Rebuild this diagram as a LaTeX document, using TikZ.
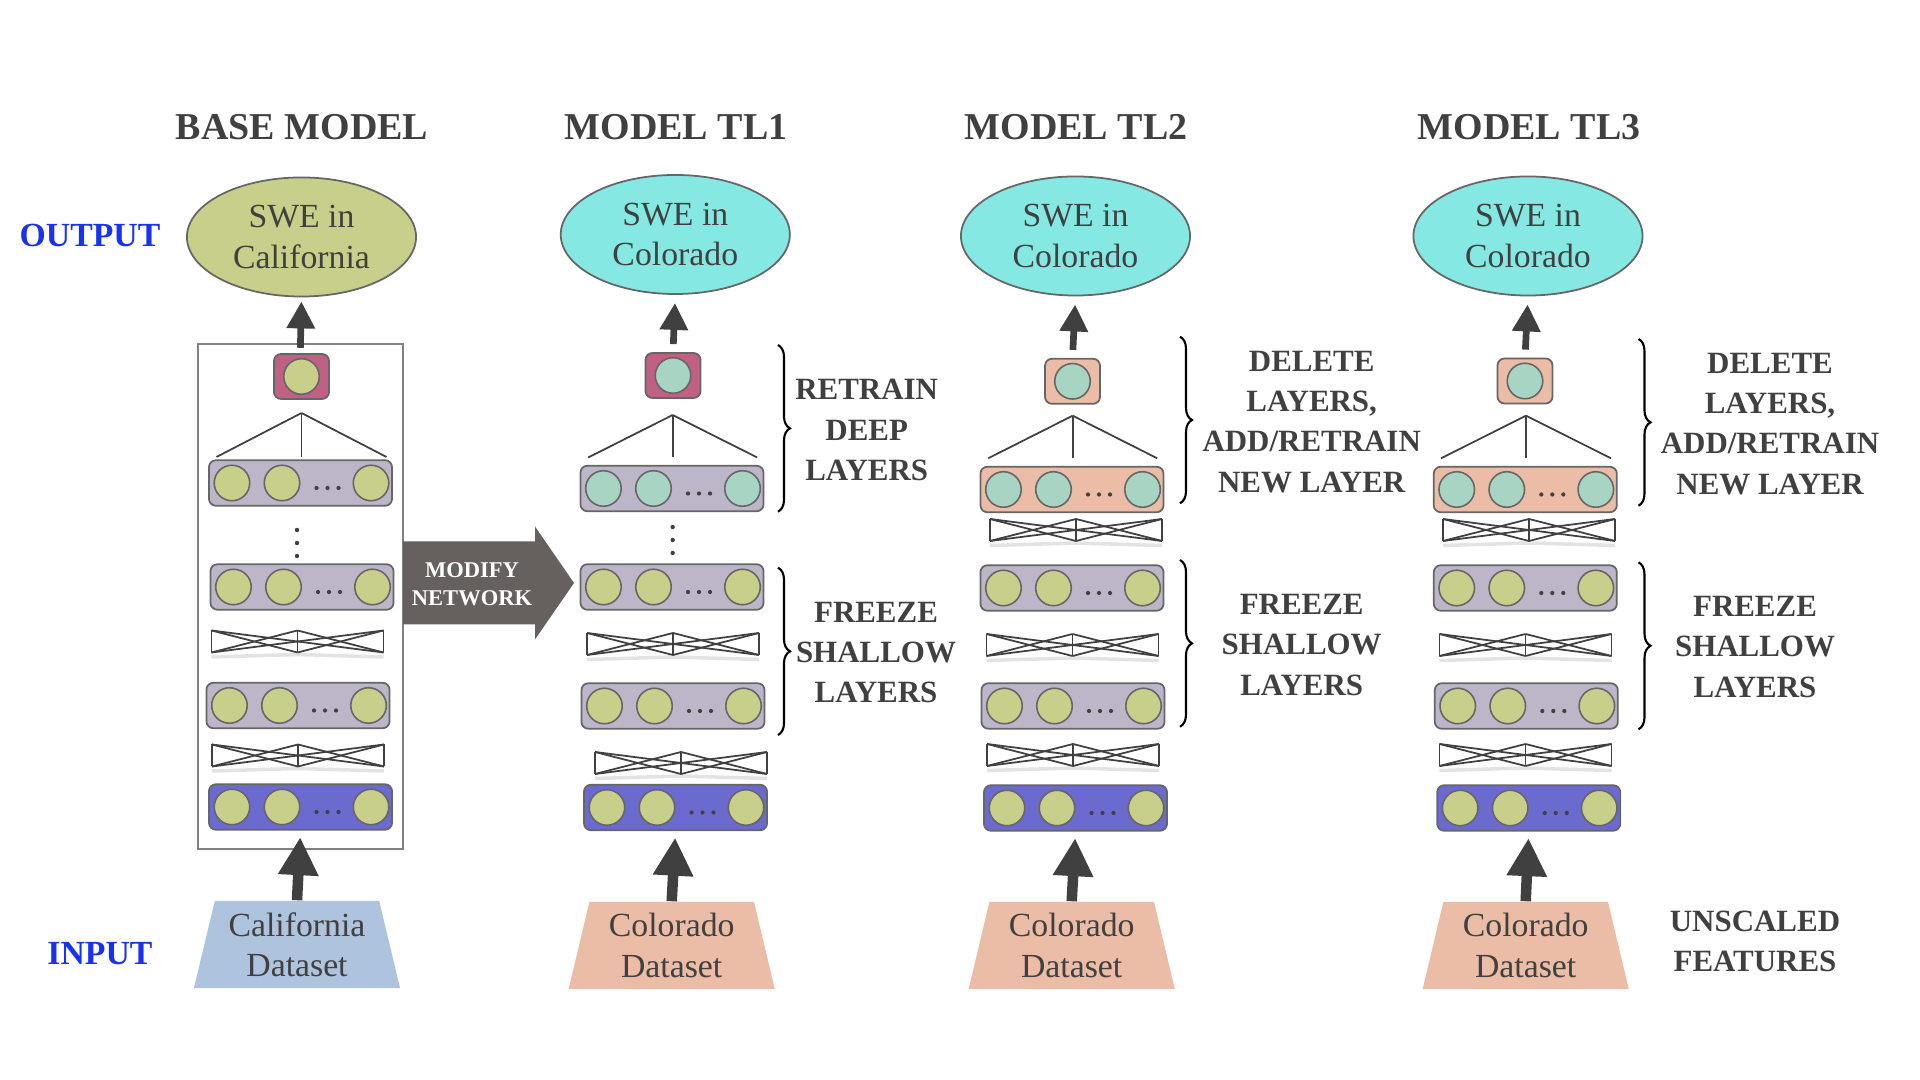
\documentclass[tikz,border=0pt]{standalone}
\usepackage{fontspec}
\setmainfont{Liberation Serif}
\usepackage{tikz}
\usetikzlibrary{
  arrows.meta,
  shapes.geometric,
  decorations.pathreplacing
}
\definecolor{inkgray}{RGB}{64,64,64}
\definecolor{edgegray}{RGB}{102,102,102}
\definecolor{framegray}{RGB}{128,128,128}
\definecolor{olivefill}{RGB}{200,207,138}
\definecolor{cyanfill}{RGB}{134,232,226}
\definecolor{mintfill}{RGB}{168,212,196}
\definecolor{lilacfill}{RGB}{189,182,201}
\definecolor{indigofill}{RGB}{107,107,207}
\definecolor{rosefill}{RGB}{192,96,133}
\definecolor{peachfill}{RGB}{235,188,166}
\definecolor{skyfill}{RGB}{173,195,222}
\definecolor{slatefill}{RGB}{102,97,94}
\definecolor{labelblue}{RGB}{26,50,240}

\tikzset{
  layerbox/.style={draw=edgegray, line width=0.5pt, rounded corners=0.07cm, minimum width=1.83cm, minimum height=0.455cm, inner sep=0pt},
  neuron/.style={circle, draw=edgegray, line width=0.45pt, minimum size=0.355cm, inner sep=0pt},
  outbox/.style={draw=edgegray, line width=0.5pt, rounded corners=0.07cm, minimum width=0.55cm, minimum height=0.45cm, inner sep=0pt},
  crossbox/.style={minimum width=1.72cm, minimum height=0.22cm, inner sep=0pt, outer sep=0pt},
  xline/.style={draw=inkgray, line width=0.5pt},
  fanline/.style={draw=inkgray, line width=0.5pt},
  swe/.style={ellipse, draw=edgegray, line width=0.5pt, minimum width=2.29cm, minimum height=1.19cm, inner sep=0pt, align=center, text=inkgray, font=\fontsize{9.6}{11.4}\selectfont},
  dataset/.style={trapezium, trapezium angle=72, trapezium stretches body, minimum width=2.06cm, minimum height=0.87cm, inner sep=0pt, align=center, text=inkgray, font=\fontsize{9.6}{11.4}\selectfont},
  modeltitle/.style={text=inkgray, font=\fontsize{10.8}{13}\selectfont\bfseries},
  notetext/.style={text=inkgray, align=center, font=\fontsize{8.8}{11.4}\selectfont\bfseries},
  sidelabel/.style={text=labelblue, font=\fontsize{9.6}{11.5}\selectfont\bfseries},
  uparrow/.style={draw=inkgray, line width=0.067cm, -{Triangle[width=0.27cm, length=0.27cm]}, shorten >=0.08cm, shorten <=0.08cm},
  inarrow/.style={draw=inkgray, line width=0.105cm, -{Triangle[width=0.38cm, length=0.38cm]}, shorten >=0.065cm},
  bracket/.style={decorate, decoration={brace, amplitude=0.12cm}, line width=0.6pt, draw=black}
}

% layer of neurons: name, x, y, box fill, neuron fill
\newcommand{\nnlayer}[5]{
  \node[layerbox, fill=#4] (#1) at (#2,#3) {};
  \node[neuron, fill=#5, xshift=-0.685cm] (#1-1) at (#1) {};
  \node[neuron, fill=#5, xshift=-0.185cm] (#1-2) at (#1) {};
  \node[neuron, fill=#5, xshift=0.705cm] (#1-3) at (#1) {};
  \foreach \dx in {0.16,0.27,0.38}
    \fill[inkgray] ([xshift=\dx cm, yshift=-0.05cm]#1.center) circle (0.021cm);
}
% dense connections: name, x, y
\newcommand{\xconn}[3]{
  \node[crossbox] (#1) at (#2,#3) {};
  \draw[gray!22, line width=1pt] ([yshift=-0.045cm]#1.south west) -- ([yshift=-0.02cm]#1.south) -- ([yshift=-0.045cm]#1.south east);
  \foreach \ta in {north west,north,north east}
    \foreach \tb in {south west,south,south east}
      \draw[xline] (#1.\ta) -- (#1.\tb);
}

\begin{document}
\begin{tikzpicture}[x=0.01cm, y=-0.01cm]
  \useasboundingbox (0,0) rectangle (1920,1080);

  \node[sidelabel] (output) at (90,236) {OUTPUT};
  \node[sidelabel] (input) at (100,954) {INPUT};

  % base model
  \node[modeltitle] (b-title) at (302,127) {BASE MODEL};
  \node[swe, fill=olivefill] (b-swe) at (301.5,237) {SWE in\\California};
  \node[draw=framegray, line width=0.6pt, minimum width=2.05cm, minimum height=5.05cm, inner sep=0pt] (b-frame) at (300.5,596.5) {};
  \node[outbox, fill=rosefill] (b-out) at (301.5,376.5) {};
  \node[neuron, fill=olivefill] (b-out-n) at (b-out) {};
  \coordinate (b-apex) at (301.5,413);
  \foreach \dx in {-85,0,85} \draw[fanline] (b-apex) -- ++(\dx,44);
  \nnlayer{b-l4}{300.5}{483}{lilacfill}{olivefill}
  \foreach \dy in {530,543,556} \fill[inkgray] (297,\dy) circle (0.022cm);
  \nnlayer{b-l3}{302}{587}{lilacfill}{olivefill}
  \xconn{b-x2}{297.5}{641.5}
  \nnlayer{b-l2}{298}{705.5}{lilacfill}{olivefill}
  \xconn{b-x1}{298}{755.5}
  \nnlayer{b-l1}{300.5}{807}{indigofill}{olivefill}
  \node[dataset, fill=skyfill] (b-data) at (297,944.5) {California\\Dataset};
  \draw[uparrow, shorten <=-0.05cm, shorten >=0.04cm] (b-frame.north) -- (b-swe.south);
  \draw[inarrow] (b-data.north) -- (b-l1.south);

  % modify arrow
  \fill[slatefill] (403,541.5) -- (535,541.5) -- (535,526.5) -- (574,583) -- (535,639.5) -- (535,624.5) -- (403,624.5) -- cycle;
  \node[text=white, align=center, font=\fontsize{6.4}{8}\selectfont\bfseries] (modify) at (472,584) {MODIFY\\NETWORK};

  % model tl1
  \node[modeltitle] (t1-title) at (676,127) {MODEL TL1};
  \node[swe, fill=cyanfill] (t1-swe) at (675.3,234.5) {SWE in\\Colorado};
  \node[outbox, fill=rosefill] (t1-out) at (673,375.5) {};
  \node[neuron, fill=mintfill] (t1-out-n) at (t1-out) {};
  \coordinate (t1-apex) at (672.7,415);
  \foreach \dx in {-84.5,0,84.5} \draw[fanline] (t1-apex) -- ++(\dx,42.5);
  \nnlayer{t1-l4}{672}{488.5}{lilacfill}{mintfill}
  \foreach \dy in {527,540,553} \fill[inkgray] (672.7,\dy) circle (0.022cm);
  \nnlayer{t1-l3}{672}{587}{lilacfill}{olivefill}
  \xconn{t1-x2}{673}{644}
  \nnlayer{t1-l2}{673}{706}{lilacfill}{olivefill}
  \xconn{t1-x1}{681}{763}
  \nnlayer{t1-l1}{675.5}{807.5}{indigofill}{olivefill}
  \node[dataset, fill=peachfill] (t1-data) at (671.7,945.5) {Colorado\\Dataset};
  \draw[uparrow] (t1-out.north) -- (t1-swe.south);
  \draw[inarrow] (t1-data.north) -- (t1-l1.south);
  \draw[bracket] (778,345) -- (778,511.7);
  \draw[bracket] (778,567.7) -- (778,735);
  \node[notetext] (t1-deep) at (866.7,430) {RETRAIN\\DEEP\\LAYERS};
  \node[notetext] (t1-shallow) at (876,652.7) {FREEZE\\SHALLOW\\LAYERS};

  % model tl2
  \node[modeltitle] (t2-title) at (1076,127) {MODEL TL2};
  \node[swe, fill=cyanfill] (t2-swe) at (1075.5,236) {SWE in\\Colorado};
  \node[outbox, fill=peachfill] (t2-out) at (1072.5,381.3) {};
  \node[neuron, fill=mintfill] (t2-out-n) at (t2-out) {};
  \coordinate (t2-apex) at (1072.7,415.7);
  \foreach \dx in {-84.5,0,84.5} \draw[fanline] (t2-apex) -- ++(\dx,42.6);
  \nnlayer{t2-l4}{1072}{489.5}{peachfill}{mintfill}
  \xconn{t2-x3}{1076}{530}
  \nnlayer{t2-l3}{1072}{588}{lilacfill}{olivefill}
  \xconn{t2-x2}{1072.5}{645}
  \nnlayer{t2-l2}{1073}{706}{lilacfill}{olivefill}
  \xconn{t2-x1}{1073}{755}
  \nnlayer{t2-l1}{1075.5}{808}{indigofill}{olivefill}
  \node[dataset, fill=peachfill] (t2-data) at (1071.7,945.5) {Colorado\\Dataset};
  \draw[uparrow] (t2-out.north) -- (t2-swe.south);
  \draw[inarrow] (t2-data.north) -- (t2-l1.south);
  \draw[bracket] (1180,336.7) -- (1180,503.3);
  \draw[bracket] (1180,560) -- (1180,726.7);
  \node[notetext] (t2-deep) at (1311.7,422) {DELETE\\LAYERS,\\ADD/RETRAIN\\NEW LAYER};
  \node[notetext] (t2-shallow) at (1301.7,645) {FREEZE\\SHALLOW\\LAYERS};

  % model tl3
  \node[modeltitle] (t3-title) at (1529,127) {MODEL TL3};
  \node[swe, fill=cyanfill] (t3-swe) at (1528,236) {SWE in\\Colorado};
  \node[outbox, fill=peachfill] (t3-out) at (1525,381) {};
  \node[neuron, fill=mintfill] (t3-out-n) at (t3-out) {};
  \coordinate (t3-apex) at (1526,415.7);
  \foreach \dx in {-85,0,85} \draw[fanline] (t3-apex) -- ++(\dx,42.6);
  \nnlayer{t3-l4}{1525.3}{489.5}{peachfill}{mintfill}
  \xconn{t3-x3}{1529}{530}
  \nnlayer{t3-l3}{1525.3}{588}{lilacfill}{olivefill}
  \xconn{t3-x2}{1525.5}{645}
  \nnlayer{t3-l2}{1526.3}{706}{lilacfill}{olivefill}
  \xconn{t3-x1}{1525.5}{755}
  \nnlayer{t3-l1}{1528.7}{808}{indigofill}{olivefill}
  \node[dataset, fill=peachfill] (t3-data) at (1525.7,945.5) {Colorado\\Dataset};
  \draw[uparrow] (t3-out.north) -- (t3-swe.south);
  \draw[inarrow] (t3-data.north) -- (t3-l1.south);
  \draw[bracket] (1638.5,339) -- (1638.5,505.7);
  \draw[bracket] (1638.5,562.3) -- (1638.5,729.3);
  \node[notetext] (t3-deep) at (1770,424) {DELETE\\LAYERS,\\ADD/RETRAIN\\NEW LAYER};
  \node[notetext] (t3-shallow) at (1755,647) {FREEZE\\SHALLOW\\LAYERS};
  \node[notetext] (unscaled) at (1755,941.7) {UNSCALED\\FEATURES};
\end{tikzpicture}
\end{document}
